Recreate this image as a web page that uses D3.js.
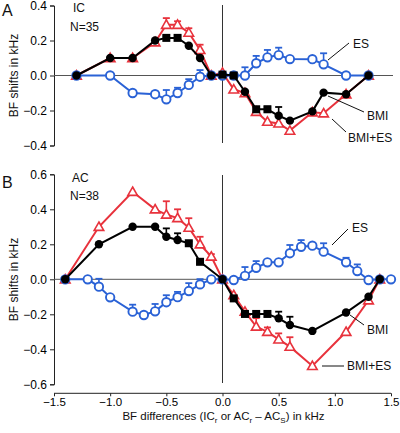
<!DOCTYPE html>
<html><head><meta charset="utf-8">
<script src="https://cdn.jsdelivr.net/npm/d3@7"></script>
<style>body{margin:0;background:#fff}svg{display:block;font-family:"Liberation Sans",Arial,sans-serif}</style>
</head><body><svg id="c" width="400" height="433"></svg>
<script>
// ---------- DATA ----------
const xTicks = [-1.5,-1.0,-0.5,0.0,0.5,1.0,1.5];
const yTicksA = [-0.4,-0.2,0.0,0.2,0.4];
const yTicksB = [-0.6,-0.4,-0.2,0.0,0.2,0.4,0.6];

// Panel A (IC)
const xA = [-1.3,-1.0,-0.8,-0.6,-0.5,-0.4,-0.3,-0.2,-0.1,0.0,0.1,0.2,0.3,0.4,0.5,0.6,0.8,0.9,1.1,1.3];
const bmiA    = [0,0.10,0.10,0.20,0.215,0.215,0.17,0.10,0.0,0.005,0.0,-0.093,-0.193,-0.193,-0.23,-0.258,-0.205,-0.098,-0.107,0];
const bmiAErr = [0,0,0,0,0.01,0.01,0,0,0,0,0,0,0,0.015,0.05,0,0,0,0,0];
const bmiAShape = ["c","c","c","c","s","s","c","c","c","s","s","c","s","s","c","c","c","c","c","c"];
const bmiEsA    = [0,0.10,0.10,0.19,0.29,0.29,0.245,0.146,0.0,0.016,-0.079,-0.10,-0.207,-0.264,-0.274,-0.315,-0.21,-0.216,-0.107,0];
const bmiEsAErr = [0,0,0,0,0.038,0.02,0.025,0.03,0,0,0,0,0,0,0,0,0,0,0,0];
const esA    = [0,0,-0.10,-0.107,-0.136,-0.10,-0.054,-0.007,0.0,0.0,0.0,0.0,0.07,0.104,0.117,0.094,0.093,0.064,0,0];
const esAErr = [0,0,0,0,0.053,0.03,0.033,0.038,0,0,0,0.047,0.042,0.042,0.042,0,0,0.063,0,0];

// Panel B (AC)
const xBbmi = [-1.4,-1.1,-0.8,-0.6,-0.5,-0.4,-0.3,-0.2,0.0,0.1,0.2,0.3,0.4,0.5,0.6,0.8,1.1,1.3,1.4];
const bmiB    = [0,0.20,0.30,0.30,0.243,0.225,0.206,0.10,0,-0.109,-0.198,-0.198,-0.198,-0.223,-0.261,-0.295,-0.19,-0.10,0];
const bmiBErr = [0,0,0,0,0.048,0.038,0.01,0,0,0,0,0,0.015,0.038,0.047,0,0,0,0];
const bmiBShape = ["c","c","c","c","c","c","s","s","c","s","s","s","s","c","c","c","c","c","c"];
const xBbmiEs = [-1.4,-1.1,-0.8,-0.6,-0.5,-0.4,-0.3,-0.2,-0.1,0.0,0.1,0.2,0.3,0.4,0.5,0.6,0.8,1.1,1.3,1.4];
const bmiEsB    = [0,0.30,0.50,0.40,0.37,0.35,0.295,0.20,0.13,0.0,-0.09,-0.185,-0.27,-0.30,-0.343,-0.385,-0.495,-0.30,-0.12,0];
const bmiEsBErr = [0,0,0,0,0.076,0.05,0.054,0.043,0.014,0,0,0,0.048,0.025,0.034,0.054,0,0,0,0];
const xBes = [-1.4,-1.2,-1.1,-1.0,-0.8,-0.7,-0.6,-0.5,-0.4,-0.3,-0.2,-0.1,0.0,0.1,0.2,0.3,0.4,0.5,0.6,0.7,0.8,0.9,1.1,1.2,1.3,1.4,1.5];
const esB    = [0,0,-0.042,-0.103,-0.185,-0.204,-0.183,-0.131,-0.102,-0.067,-0.029,0,0,-0.004,0.02,0.066,0.097,0.097,0.149,0.186,0.192,0.158,0.097,0.047,-0.004,0,0];
const esBErr = [0,0,0.045,0,0.04,0,0.042,0.04,0.03,0.045,0.03,0,0,0,0.05,0.038,0,0,0.047,0.038,0,0.048,0.026,0.038,0,0,0];

// ---------- DRAW ----------
const RED = "#e8323c", BLUE = "#2a62d6", BLACK = "#000";
const svg = d3.select("#c");
const x = d3.scaleLinear().domain([-1.5,1.5]).range([54,391]);
const yA = d3.scaleLinear().domain([-0.4,0.4]).range([145.5,5.5]);
const yB = d3.scaleLinear().domain([-0.6,0.6]).range([384.3,174.3]);
const FS = 12;

function yAxis(y, ticks, dom){
  const g = svg.append("g").attr("transform","translate(54,0)");
  const minor = d3.range(dom[0], dom[1]+0.001, 0.1);
  g.call(d3.axisLeft(y).tickValues(minor).tickSize(2.5).tickFormat(""))
    .call(s=>s.select(".domain").remove());
  g.call(d3.axisLeft(y).tickValues(ticks).tickSize(4).tickPadding(3).tickFormat(d3.format(".1f")));
  g.selectAll("text").attr("font-size",FS).attr("font-family","Liberation Sans, Arial");
  g.selectAll("path,line").attr("stroke","#222");
}
yAxis(yA, yTicksA, [-0.4,0.4]);
yAxis(yB, yTicksB, [-0.6,0.6]);

const gx = svg.append("g").attr("transform","translate(0,393.3)")
  .call(d3.axisBottom(x).tickValues(xTicks).tickSize(3).tickPadding(2).tickFormat(d3.format(".1f")));
gx.select(".domain").attr("d","M54,0H391");
gx.selectAll("text").attr("font-size",11.5).attr("font-family","Liberation Sans, Arial");
gx.selectAll("path,line").attr("stroke","#222");

// zero lines and vertical center lines
function refLines(y, yTop, yBot){
  svg.append("line").attr("x1",54).attr("x2",393).attr("y1",y(0)).attr("y2",y(0)).attr("stroke","#555").attr("stroke-width",1);
  svg.append("line").attr("x1",x(0)).attr("x2",x(0)).attr("y1",yTop).attr("y2",yBot).attr("stroke","#333").attr("stroke-width",1);
}
refLines(yA, 5, 143);
refLines(yB, 175, 383);

function series(xs, vals, errs, y, color, kind, shapes){
  const g = svg.append("g");
  const line = d3.line().x((d,i)=>x(xs[i])).y(d=>y(d));
  g.append("path").datum(vals).attr("d",line).attr("fill","none").attr("stroke",color).attr("stroke-width",2);
  // error bars (upward)
  vals.forEach((v,i)=>{
    if(!errs[i]) return;
    const cx = x(xs[i]), yt = y(v+errs[i]);
    g.append("line").attr("x1",cx).attr("x2",cx).attr("y1",y(v)).attr("y2",yt).attr("stroke",color).attr("stroke-width",1.6);
    g.append("line").attr("x1",cx-3.5).attr("x2",cx+3.5).attr("y1",yt).attr("y2",yt).attr("stroke",color).attr("stroke-width",1.8);
  });
  vals.forEach((v,i)=>{
    const cx = x(xs[i]), cy = y(v);
    if(kind==="tri"){
      const s = 4.8;
      g.append("path").attr("d",`M${cx},${cy-s}L${cx+s},${cy+s*0.75}L${cx-s},${cy+s*0.75}Z`)
        .attr("fill","#fff").attr("stroke",color).attr("stroke-width",1.6);
    } else if(kind==="open"){
      g.append("circle").attr("cx",cx).attr("cy",cy).attr("r",4.2).attr("fill","#fff").attr("stroke",color).attr("stroke-width",1.9);
    } else {
      if(shapes && shapes[i]==="s")
        g.append("rect").attr("x",cx-4).attr("y",cy-4).attr("width",8).attr("height",8).attr("fill",color);
      else
        g.append("circle").attr("cx",cx).attr("cy",cy).attr("r",4.2).attr("fill",color);
    }
  });
}
series(xA, bmiEsA, bmiEsAErr, yA, RED, "tri");
series(xA, esA, esAErr, yA, BLUE, "open");
series(xA, bmiA, bmiAErr, yA, BLACK, "fill", bmiAShape);
series(xBbmiEs, bmiEsB, bmiEsBErr, yB, RED, "tri");
series(xBes, esB, esBErr, yB, BLUE, "open");
series(xBbmi, bmiB, bmiBErr, yB, BLACK, "fill", bmiBShape);

// texts
function txt(t, xx, yy, opts={}){
  const e = svg.append("text").attr("x",xx).attr("y",yy).attr("font-size",opts.fs||FS).attr("fill","#111").text(t);
  if(opts.anchor) e.attr("text-anchor",opts.anchor);
  return e;
}
txt("A", 2, 16, {fs:16});
txt("B", 2, 188, {fs:16});
txt("IC", 73, 12);
txt("N=35", 70, 31);
txt("AC", 72, 182);
txt("N=38", 70, 200);

function ylab(cy){
  svg.append("text").attr("transform",`translate(18,${cy}) rotate(-90)`).attr("text-anchor","middle")
    .attr("font-size",FS).attr("fill","#111").text("BF shifts in kHz");
}
ylab(75.5); ylab(279.5);

const xt = svg.append("text").attr("x",223.5).attr("y",420).attr("text-anchor","middle").attr("font-size",11.5).attr("fill","#111");
xt.append("tspan").text("BF differences (IC");
xt.append("tspan").text("r").attr("font-size",8).attr("dy",2.5);
xt.append("tspan").text(" or AC").attr("dy",-2.5);
xt.append("tspan").text("r").attr("font-size",8).attr("dy",2.5);
xt.append("tspan").text(" \u2013 AC").attr("dy",-2.5);
xt.append("tspan").text("S").attr("font-size",8).attr("dy",2.5);
xt.append("tspan").text(") in kHz").attr("dy",-2.5);

function lead(x1,y1,x2,y2){
  svg.append("line").attr("x1",x1).attr("y1",y1).attr("x2",x2).attr("y2",y2).attr("stroke","#111").attr("stroke-width",1);
}
// panel A labels
lead(349,43,328,60); txt("ES", 353, 48);
lead(364,112,328,96); txt("BMI", 367, 120);
lead(346,132,332,119); txt("BMI+ES", 348, 142);
// panel B labels
lead(348,229,332,245); txt("ES", 352, 232);
lead(364,325,350,315); txt("BMI", 367, 334);
lead(344,366,322,366); txt("BMI+ES", 347, 370);
</script></body></html>
